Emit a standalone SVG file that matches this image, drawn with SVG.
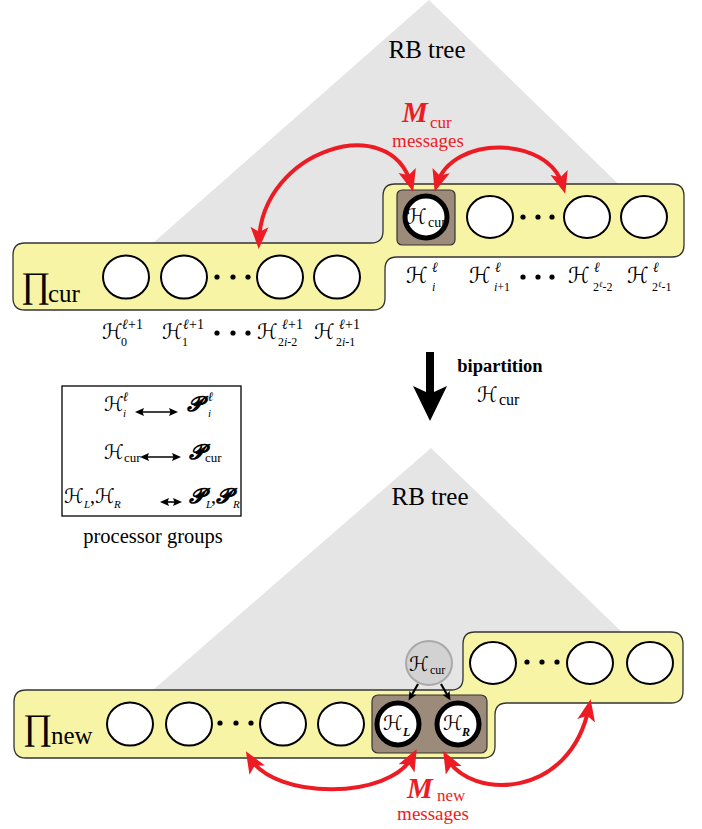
<svg xmlns="http://www.w3.org/2000/svg" width="702" height="829" viewBox="0 0 702 829" font-family="'Liberation Serif', 'DejaVu Serif', serif">
<style>
.tri{fill:#e5e5e5}
.bar{fill:#f8f4a6;stroke:#333;stroke-width:1.3}
.box{fill:#9c8b7b;stroke:#333;stroke-width:1.2}
.c{fill:#fff;stroke:#000;stroke-width:2}
.ct{fill:#fff;stroke:#000;stroke-width:5}
.cg{fill:#d2d2d2;stroke:#a9a9a9;stroke-width:2}
.dot{fill:#000}
text{font-family:'Liberation Serif','DejaVu Serif',serif;fill:#000}
text.H{font-family:'DejaVu Sans','Liberation Serif',serif;font-style:italic}
text.P{font-family:'Liberation Serif','DejaVu Sans',serif;font-style:italic;font-weight:bold}
.l{font-style:italic;font-weight:bold}
.i{font-style:italic}
.red{fill:#ed1c24}
.arc{fill:none;stroke:#ed1c24;stroke-width:4}
.blk{stroke:#000;stroke-width:2.2;fill:none}
.leg{stroke:#000;stroke-width:1.6;fill:none}
</style>
<defs>
<marker id="ra" markerUnits="userSpaceOnUse" markerWidth="24" markerHeight="20" refX="14" refY="9" orient="auto-start-reverse" viewBox="0 0 24 18">
<path d="M0,0 L22,9 L0,18 L5,9 Z" fill="#ed1c24"/>
</marker>
<marker id="ba" markerUnits="userSpaceOnUse" markerWidth="10" markerHeight="10" refX="6" refY="4" orient="auto" viewBox="0 0 10 8">
<path d="M0,0 L9,4 L0,8 L2,4 Z" fill="#000"/>
</marker>
<marker id="la" markerUnits="userSpaceOnUse" markerWidth="10" markerHeight="9" refX="6" refY="4" orient="auto-start-reverse" viewBox="0 0 10 8">
<path d="M0,0 L9,4 L0,8 L1.5,4 Z" fill="#000"/>
</marker>
</defs>

<g id="tree-top"><polygon class="tri" points="429,0 679,243 153,243"/></g>
<g id="tree-bottom"><polygon class="tri" points="431,448 682,690 153,690"/></g>

<g id="bar-cur">
<path class="bar" d="M25,243 H371 Q383,243 383,231 V196 Q383,184 395,184 H672 Q684,184 684,196 V245 Q684,257 672,257 H397 Q385,257 385,269 V298 Q385,310 373,310 H25 Q13,310 13,298 V255 Q13,243 25,243 Z"/>
<text x="21" y="297" font-size="36">∏</text>
<text x="48" y="302" font-size="25">cur</text>
</g>

<g id="bar-new">
<path class="bar" d="M26,690 H451 Q463,690 463,678 V644 Q463,632 475,632 H671 Q683,632 683,644 V691 Q683,703 671,703 H507 Q495,703 495,715 V746 Q495,758 483,758 H26 Q14,758 14,746 V702 Q14,690 26,690 Z"/>
<text x="23" y="739" font-size="36">∏</text>
<text x="51" y="744" font-size="25">new</text>
</g>

<g id="box-cur"><rect class="box" x="397" y="190" width="58" height="55" rx="5"/></g>
<g id="box-new"><rect class="box" x="372" y="695" width="115" height="58" rx="6"/></g>

<g id="top-nodes">
<ellipse class="c" cx="126" cy="277" rx="23" ry="21.5"/>
<ellipse class="c" cx="184" cy="277" rx="23" ry="21.5"/>
<ellipse class="c" cx="280" cy="277" rx="23" ry="21.5"/>
<ellipse class="c" cx="337" cy="277" rx="23" ry="21.5"/>
<circle class="dot" cx="217" cy="277" r="2.6"/><circle class="dot" cx="233" cy="277" r="2.6"/><circle class="dot" cx="248" cy="277" r="2.6"/>
<ellipse class="c" cx="490" cy="217" rx="23" ry="21"/>
<ellipse class="c" cx="587" cy="217" rx="23" ry="21"/>
<ellipse class="c" cx="644" cy="217" rx="23" ry="21"/>
<circle class="dot" cx="523" cy="217" r="2.6"/><circle class="dot" cx="538" cy="217" r="2.6"/><circle class="dot" cx="552" cy="217" r="2.6"/>
</g>

<g id="H-cur-top">
<circle class="ct" cx="426" cy="217" r="21"/>
<text class="H" x="406" y="224" font-size="21">ℋ</text>
<text x="428" y="227" font-size="14">cur</text>
</g>

<g id="bottom-nodes">
<ellipse class="c" cx="130" cy="724" rx="23" ry="21.5"/>
<ellipse class="c" cx="189" cy="724" rx="23" ry="21.5"/>
<ellipse class="c" cx="283" cy="724" rx="23" ry="21.5"/>
<ellipse class="c" cx="341" cy="724" rx="23" ry="21.5"/>
<circle class="dot" cx="220" cy="723" r="2.6"/><circle class="dot" cx="236" cy="723" r="2.6"/><circle class="dot" cx="251" cy="723" r="2.6"/>
<ellipse class="c" cx="493" cy="663" rx="23" ry="21"/>
<ellipse class="c" cx="590" cy="663" rx="23" ry="21"/>
<ellipse class="c" cx="650" cy="663" rx="23" ry="21"/>
<circle class="dot" cx="527" cy="662" r="2.6"/><circle class="dot" cx="542" cy="662" r="2.6"/><circle class="dot" cx="557" cy="662" r="2.6"/>
</g>

<g id="H-cur-gray">
<ellipse class="cg" cx="429" cy="663" rx="23" ry="22"/>
<text class="H" x="409" y="671" font-size="20">ℋ</text>
<text x="430" y="674" font-size="12">cur</text>
</g>
<g id="H-L">
<circle class="ct" cx="398" cy="724" r="21" stroke-width="6"/>
<text class="H" x="383" y="730" font-size="20">ℋ</text>
<text class="l" x="403" y="736" font-size="12">L</text>
</g>
<g id="H-R">
<circle class="ct" cx="458" cy="724" r="21" stroke-width="6"/>
<text class="H" x="443" y="730" font-size="20">ℋ</text>
<text class="l" x="462" y="736" font-size="12">R</text>
</g>

<g id="labels-upper">
<text class="H" x="406" y="283" font-size="22">ℋ</text><text class="l" x="432" y="272" font-size="14">ℓ</text><text class="i" x="432" y="291" font-size="12">i</text>
<text class="H" x="469" y="283" font-size="22">ℋ</text><text class="l" x="495" y="272" font-size="14">ℓ</text><text x="494" y="291" font-size="12"><tspan class="i">i</tspan>+1</text>
<circle class="dot" cx="523" cy="277" r="2.6"/><circle class="dot" cx="538" cy="277" r="2.6"/><circle class="dot" cx="552" cy="277" r="2.6"/>
<text class="H" x="568" y="283" font-size="22">ℋ</text><text class="l" x="594" y="272" font-size="14">ℓ</text><text x="593" y="291" font-size="12">2<tspan class="l" font-size="8" dy="-4">ℓ</tspan><tspan dy="4">-2</tspan></text>
<text class="H" x="627" y="283" font-size="22">ℋ</text><text class="l" x="653" y="272" font-size="14">ℓ</text><text x="652" y="291" font-size="12">2<tspan class="l" font-size="8" dy="-4">ℓ</tspan><tspan dy="4">-1</tspan></text>
</g>

<g id="labels-lower">
<text class="H" x="102" y="339" font-size="21">ℋ</text><text x="122" y="329" font-size="14"><tspan class="l">ℓ</tspan>+1</text><text x="121" y="346" font-size="12">0</text>
<text class="H" x="162" y="339" font-size="21">ℋ</text><text x="183" y="329" font-size="14"><tspan class="l">ℓ</tspan>+1</text><text x="182" y="346" font-size="12">1</text>
<circle class="dot" cx="217" cy="333" r="2.6"/><circle class="dot" cx="233" cy="333" r="2.6"/><circle class="dot" cx="248" cy="333" r="2.6"/>
<text class="H" x="257" y="339" font-size="21">ℋ</text><text x="282" y="329" font-size="14"><tspan class="l">ℓ</tspan>+1</text><text x="278" y="346" font-size="12">2<tspan class="i">i</tspan>-2</text>
<text class="H" x="314" y="339" font-size="21">ℋ</text><text x="339" y="329" font-size="14"><tspan class="l">ℓ</tspan>+1</text><text x="336" y="346" font-size="12">2<tspan class="i">i</tspan>-1</text>
</g>

<g id="rb-top"><text x="427" y="58" font-size="25" text-anchor="middle">RB tree</text></g>
<g id="rb-bottom"><text x="430" y="505" font-size="25" text-anchor="middle">RB tree</text></g>

<g id="msg-cur">
<text class="red" x="402" y="122" font-size="29" font-style="italic" font-weight="bold">M</text>
<text class="red" x="430" y="128" font-size="17">cur</text>
<text class="red" x="428" y="147" font-size="19" text-anchor="middle">messages</text>
</g>
<g id="msg-new">
<text class="red" x="407" y="798" font-size="29" font-style="italic" font-weight="bold">M</text>
<text class="red" x="437" y="801" font-size="17">new</text>
<text class="red" x="433" y="820" font-size="19" text-anchor="middle">messages</text>
</g>

<g id="bipartition">
<polygon points="426,352 434,352 434,392 447,386 430,421 413,386 426,392" fill="#000"/>
<text x="500" y="372" font-size="18.5" font-weight="bold" text-anchor="middle">bipartition</text>
<text class="H" x="477" y="402" font-size="21">ℋ</text>
<text x="499" y="405" font-size="16">cur</text>
</g>

<g id="legend">
<rect x="62" y="386" width="179" height="130" fill="#fff" stroke="#000" stroke-width="1.3"/>
<text class="H" x="104" y="411" font-size="20">ℋ</text><text class="l" x="123" y="401" font-size="13">ℓ</text><text class="i" x="123" y="417" font-size="11">i</text>
<line class="leg" x1="138" y1="412" x2="175" y2="412" marker-start="url(#la)" marker-end="url(#la)"/>
<text class="P" x="187" y="411" font-size="21">𝓟</text><text class="l" x="208" y="401" font-size="13">ℓ</text><text class="i" x="208" y="417" font-size="11">i</text>
<text class="H" x="104" y="459" font-size="20">ℋ</text><text x="124" y="462" font-size="13">cur</text>
<line class="leg" x1="143" y1="457" x2="178" y2="457" marker-start="url(#la)" marker-end="url(#la)"/>
<text class="P" x="189" y="459" font-size="21">𝓟</text><text x="205" y="462" font-size="13">cur</text>
<text class="H" x="64" y="503" font-size="20">ℋ</text><text class="i" x="84" y="508" font-size="11">L</text><text x="90" y="503" font-size="20">,</text>
<text class="H" x="95" y="503" font-size="20">ℋ</text><text class="i" x="114" y="508" font-size="11">R</text>
<line class="leg" x1="163" y1="502" x2="179" y2="502" marker-start="url(#la)" marker-end="url(#la)"/>
<text class="P" x="189" y="503" font-size="21">𝓟</text><text class="i" x="206" y="508" font-size="11">L</text><text x="211" y="503" font-size="20">,</text>
<text class="P" x="216" y="503" font-size="21">𝓟</text><text class="i" x="233" y="508" font-size="11">R</text>
<text x="153" y="543" font-size="20.5" text-anchor="middle">processor groups</text>
</g>

<g id="connectors">
<path class="arc" d="M259,241 C262,150 390,110 411,184" marker-start="url(#ra)" marker-end="url(#ra)"/>
<path class="arc" d="M437,184 C452,135 548,135 563,186" marker-start="url(#ra)" marker-end="url(#ra)"/>
<path class="arc" d="M250,758 C275,800 390,800 413,756" marker-start="url(#ra)" marker-end="url(#ra)"/>
<path class="arc" d="M447,758 C470,800 570,800 589,707" marker-start="url(#ra)" marker-end="url(#ra)"/>
<line class="blk" x1="418" y1="684" x2="410" y2="698" marker-end="url(#ba)"/>
<line class="blk" x1="441" y1="684" x2="449" y2="698" marker-end="url(#ba)"/>
</g>
</svg>
